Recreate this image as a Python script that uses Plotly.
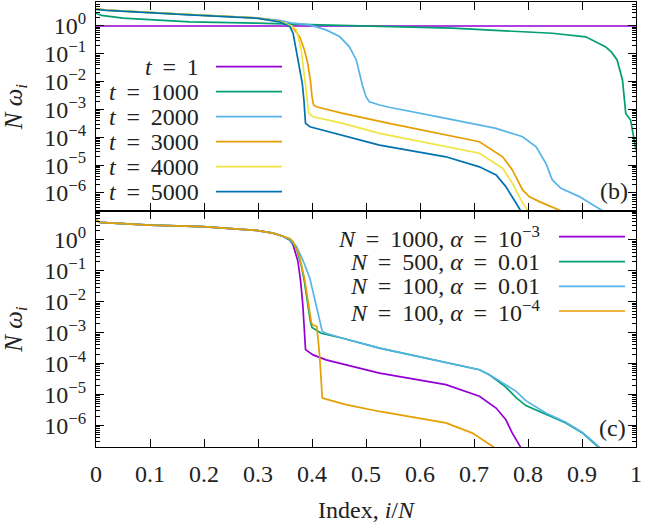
import numpy as np
import plotly.graph_objects as go

# ---------------- data (x = i/N, values stored as log10(N w_i)) ----------------
# panel (b)
b_names = ["1", "1000", "2000", "3000", "4000", "5000"]
b_colors = ["#9400d3", "#009e73", "#56b4e9", "#e69f00", "#f0e442", "#0072b2"]

b_t1_x = [0, 1]
b_t1_lg = [0, 0]

b_t1000_x = [0, 0.01, 0.05, 0.174, 0.297, 0.346, 0.414, 0.66, 0.845, 0.907, 0.944, 0.955, 0.965, 0.975,
             0.981, 0.99, 0.996, 1.0]
b_t1000_lg = [0.46, 0.38, 0.28, 0.15, 0.1, 0.07, 0.04, -0.08, -0.26, -0.39, -0.75, -0.95, -1.22, -1.94,
              -3.14, -3.38, -3.98, -4.46]

b_t2000_x = [0, 0.02, 0.174, 0.297, 0.34, 0.365, 0.396, 0.426, 0.451, 0.469, 0.482, 0.488, 0.494, 0.50,
             0.506, 0.525, 0.543, 0.648, 0.741, 0.79, 0.815, 0.833, 0.845, 0.861, 0.895, 0.938, 0.945]
b_t2000_lg = [0.62, 0.57, 0.41, 0.29, 0.2, 0.1, 0.04, -0.14, -0.38, -0.74, -1.22, -1.7, -2.18, -2.54,
              -2.72, -2.84, -2.92, -3.32, -3.68, -3.98, -4.34, -4.93, -5.53, -5.83, -6.13, -6.64, -6.75]

b_t3000_x = [0, 0.02, 0.174, 0.297, 0.34, 0.352, 0.365, 0.377, 0.386, 0.392, 0.397, 0.40, 0.403, 0.408,
             0.457, 0.543, 0.71, 0.753, 0.771, 0.79, 0.802, 0.821, 0.861, 0.87]
b_t3000_lg = [0.62, 0.57, 0.41, 0.29, 0.17, 0.08, -0.08, -0.38, -0.86, -1.34, -1.94, -2.54, -2.84, -2.9,
              -3.14, -3.5, -4.16, -4.7, -5.17, -5.89, -6.13, -6.31, -6.64, -6.72]

b_t4000_x = [0, 0.02, 0.174, 0.297, 0.34, 0.352, 0.362, 0.371, 0.38, 0.386, 0.391, 0.394, 0.402, 0.457,
             0.525, 0.71, 0.753, 0.771, 0.787, 0.799, 0.805]
b_t4000_lg = [0.62, 0.57, 0.41, 0.29, 0.16, 0.07, 0.0, -0.14, -0.86, -1.82, -2.66, -3.14, -3.26, -3.5,
              -3.86, -4.57, -5.11, -5.65, -6.25, -6.64, -6.8]

b_t5000_x = [0, 0.02, 0.174, 0.297, 0.34, 0.352, 0.359, 0.365, 0.371, 0.377, 0.382, 0.385, 0.388, 0.396,
             0.457, 0.525, 0.648, 0.71, 0.741, 0.759, 0.778, 0.787, 0.79]
b_t5000_lg = [0.6, 0.56, 0.4, 0.28, 0.15, 0.04, -0.02, -0.26, -0.86, -1.46, -2.06, -2.66, -3.5, -3.62,
              -3.92, -4.28, -4.7, -5.06, -5.35, -5.77, -6.37, -6.64, -6.75]

# panel (c)
EQ = "\u00a0\u2009=\u2009\u00a0"
c_names = ["<i>N</i>" + EQ + "1000, <i>α</i>" + EQ + "10<sup>−3</sup>",
           "<i>N</i>" + EQ + "500, <i>α</i>" + EQ + "0.01",
           "<i>N</i>" + EQ + "100, <i>α</i>" + EQ + "0.01",
           "<i>N</i>" + EQ + "100, <i>α</i>" + EQ + "10<sup>−4</sup>"]
c_colors = ["#9400d3", "#009e73", "#56b4e9", "#e69f00"]

c_n1000_x = [0, 0.007, 0.1, 0.198, 0.297, 0.328, 0.346, 0.359, 0.365, 0.374, 0.379, 0.383, 0.386, 0.388,
             0.402, 0.426, 0.525, 0.648, 0.71, 0.741, 0.759, 0.771, 0.787, 0.79]
c_n1000_lg = [0.65, 0.57, 0.48, 0.43, 0.31, 0.22, 0.12, 0.0, -0.16, -0.7, -1.35, -2.1, -2.96, -3.55,
              -3.72, -3.88, -4.31, -4.68, -5.06, -5.44, -5.82, -6.25, -6.73, -6.8]

c_n500_x = [0, 0.007, 0.1, 0.198, 0.297, 0.328, 0.346, 0.359, 0.371, 0.38, 0.386, 0.392, 0.397, 0.40,
            0.417, 0.457, 0.525, 0.71, 0.728, 0.759, 0.778, 0.796, 0.833, 0.87, 0.901, 0.919, 0.932]
c_n500_lg = [0.65, 0.57, 0.48, 0.43, 0.31, 0.22, 0.12, 0.0, -0.27, -0.81, -1.35, -2.1, -2.64, -2.83,
             -3.02, -3.18, -3.5, -4.2, -4.36, -4.76, -5.1, -5.36, -5.65, -5.92, -6.25, -6.52, -6.73]

c_n100a_x = [0, 0.007, 0.1, 0.198, 0.297, 0.328, 0.346, 0.359, 0.371, 0.383, 0.396, 0.405, 0.413, 0.419,
             0.426, 0.457, 0.525, 0.71, 0.728, 0.759, 0.778, 0.796, 0.815, 0.833, 0.87, 0.901, 0.919, 0.935]
c_n100a_lg = [0.65, 0.57, 0.48, 0.43, 0.31, 0.22, 0.12, 0.02, -0.2, -0.65, -1.24, -1.88, -2.53, -2.96,
              -3.02, -3.18, -3.5, -4.2, -4.35, -4.7, -4.9, -5.2, -5.4, -5.6, -5.9, -6.23, -6.5, -6.75]

c_n100b_x = [0, 0.007, 0.1, 0.198, 0.297, 0.328, 0.346, 0.359, 0.365, 0.376, 0.386, 0.394, 0.399, 0.402,
             0.409, 0.414, 0.419, 0.426, 0.463, 0.525, 0.648, 0.697, 0.722, 0.741, 0.745]
c_n100b_lg = [0.65, 0.57, 0.48, 0.43, 0.31, 0.22, 0.12, 0.05, -0.05, -0.48, -1.24, -2.1, -2.69, -2.75,
              -2.8, -3.72, -5.11, -5.15, -5.33, -5.55, -5.92, -6.25, -6.52, -6.73, -6.8]

x_ticks = [0, 0.1, 0.2, 0.3, 0.4, 0.5, 0.6, 0.7, 0.8, 0.9, 1]
x_ticktext = ["0", "0.1", "0.2", "0.3", "0.4", "0.5", "0.6", "0.7", "0.8", "0.9", "1"]
y_exps = [-6, -5, -4, -3, -2, -1, 0]

# ---------------- figure ----------------
W, H = 645, 523
ML, MR, MT, MB = 96, 9, 2, 76
PW, PH = W - ML - MR, H - MT - MB
split_px = 211
split = (MT + PH - split_px) / PH

FONT = "Liberation Serif, Times New Roman, serif"
TXT = "#222222"
LW = 1.7

fig = go.Figure()

b_series = [(b_t1_x, b_t1_lg), (b_t1000_x, b_t1000_lg), (b_t2000_x, b_t2000_lg),
            (b_t3000_x, b_t3000_lg), (b_t4000_x, b_t4000_lg), (b_t5000_x, b_t5000_lg)]
for (xs, lg), col in zip(b_series, b_colors):
    fig.add_trace(go.Scatter(x=xs, y=np.power(10.0, lg), mode="lines",
                             line=dict(color=col, width=LW), xaxis="x", yaxis="y",
                             showlegend=False, hoverinfo="skip"))

c_series = [(c_n1000_x, c_n1000_lg), (c_n500_x, c_n500_lg), (c_n100a_x, c_n100a_lg), (c_n100b_x, c_n100b_lg)]
for (xs, lg), col in zip(c_series, c_colors):
    fig.add_trace(go.Scatter(x=xs, y=np.power(10.0, lg), mode="lines",
                             line=dict(color=col, width=LW), xaxis="x2", yaxis="y2",
                             showlegend=False, hoverinfo="skip"))

minor_vals = [m * 10.0 ** e for e in range(-7, 1) for m in range(2, 10)]
y_tickvals = [10.0 ** e for e in y_exps]
y_ticktext = ["10<sup>%s</sup>" % (str(e).replace("-", "−")) for e in y_exps]

common_x = dict(range=[0, 1], tickmode="array", tickvals=x_ticks, ticks="inside", ticklen=8,
                tickcolor="black", showline=True, linecolor="black", linewidth=1.2, mirror="ticks",
                showgrid=False, zeroline=False)
common_y = dict(type="log", tickmode="array", tickvals=y_tickvals, ticktext=y_ticktext,
                ticks="inside", ticklen=8, tickcolor="black", showline=True, linecolor="black",
                linewidth=1.2, mirror="ticks", showgrid=False, zeroline=False,
                tickfont=dict(family=FONT, size=24, color=TXT), ticklabelstandoff=4,
                minor=dict(tickmode="array", tickvals=minor_vals, ticks="inside", ticklen=4,
                           tickcolor="black", showgrid=False),
                title=dict(text="<i>N ω<sub>i</sub></i>", font=dict(family=FONT, size=25, color=TXT),
                           standoff=16))

fig.update_layout(
    width=W, height=H, margin=dict(l=ML, r=MR, t=MT, b=MB),
    paper_bgcolor="white", plot_bgcolor="white",
    font=dict(family=FONT, size=24, color=TXT),
    xaxis=dict(common_x, anchor="y", showticklabels=False),
    xaxis2=dict(common_x, anchor="y2", ticktext=x_ticktext, showticklabels=True,
                tickfont=dict(family=FONT, size=24, color=TXT), ticklabelstandoff=5,
                title=dict(text="Index, <i>i</i>/<i>N</i>", font=dict(family=FONT, size=24, color=TXT),
                           standoff=16)),
    yaxis=dict(common_y, domain=[split, 1], range=[-6.647, 0.862], anchor="x"),
    yaxis2=dict(common_y, domain=[0, split], range=[-6.70, 0.937], anchor="x2"),
)


def px_x(p):
    return (p - ML) / PW


def px_y(p):
    return (MT + PH - p) / PH


# legend (b)
b_leg_y = [66.7, 91.7, 116.7, 141.7, 166.7, 191.7]
for name, col, yy in zip(b_names, b_colors, b_leg_y):
    fig.add_annotation(xref="paper", yref="paper", x=px_x(201), y=px_y(yy), xanchor="right", yanchor="middle",
                       text="<i>t</i>" + EQ + name, showarrow=False, font=dict(family=FONT, size=24, color=TXT))
    fig.add_shape(type="line", xref="paper", yref="paper", x0=px_x(216), x1=px_x(282), y0=px_y(yy), y1=px_y(yy),
                  line=dict(color=col, width=LW))

# legend (c)
c_leg_y = [236.7, 261.7, 286.3, 311.0]
for name, col, yy in zip(c_names, c_colors, c_leg_y):
    fig.add_annotation(xref="paper", yref="paper", x=px_x(542), y=px_y(yy), xanchor="right", yanchor="middle",
                       text=name, showarrow=False, font=dict(family=FONT, size=24, color=TXT))
    fig.add_shape(type="line", xref="paper", yref="paper", x0=px_x(559), x1=px_x(625), y0=px_y(yy), y1=px_y(yy),
                  line=dict(color=col, width=LW))

fig.add_annotation(xref="paper", yref="paper", x=px_x(630), y=px_y(191), xanchor="right", yanchor="middle",
                   text="(b)", showarrow=False, font=dict(family=FONT, size=24, color=TXT))
fig.add_annotation(xref="paper", yref="paper", x=px_x(628), y=px_y(428), xanchor="right", yanchor="middle",
                   text="(c)", showarrow=False, font=dict(family=FONT, size=24, color=TXT))

fig.write_html("out.html")
